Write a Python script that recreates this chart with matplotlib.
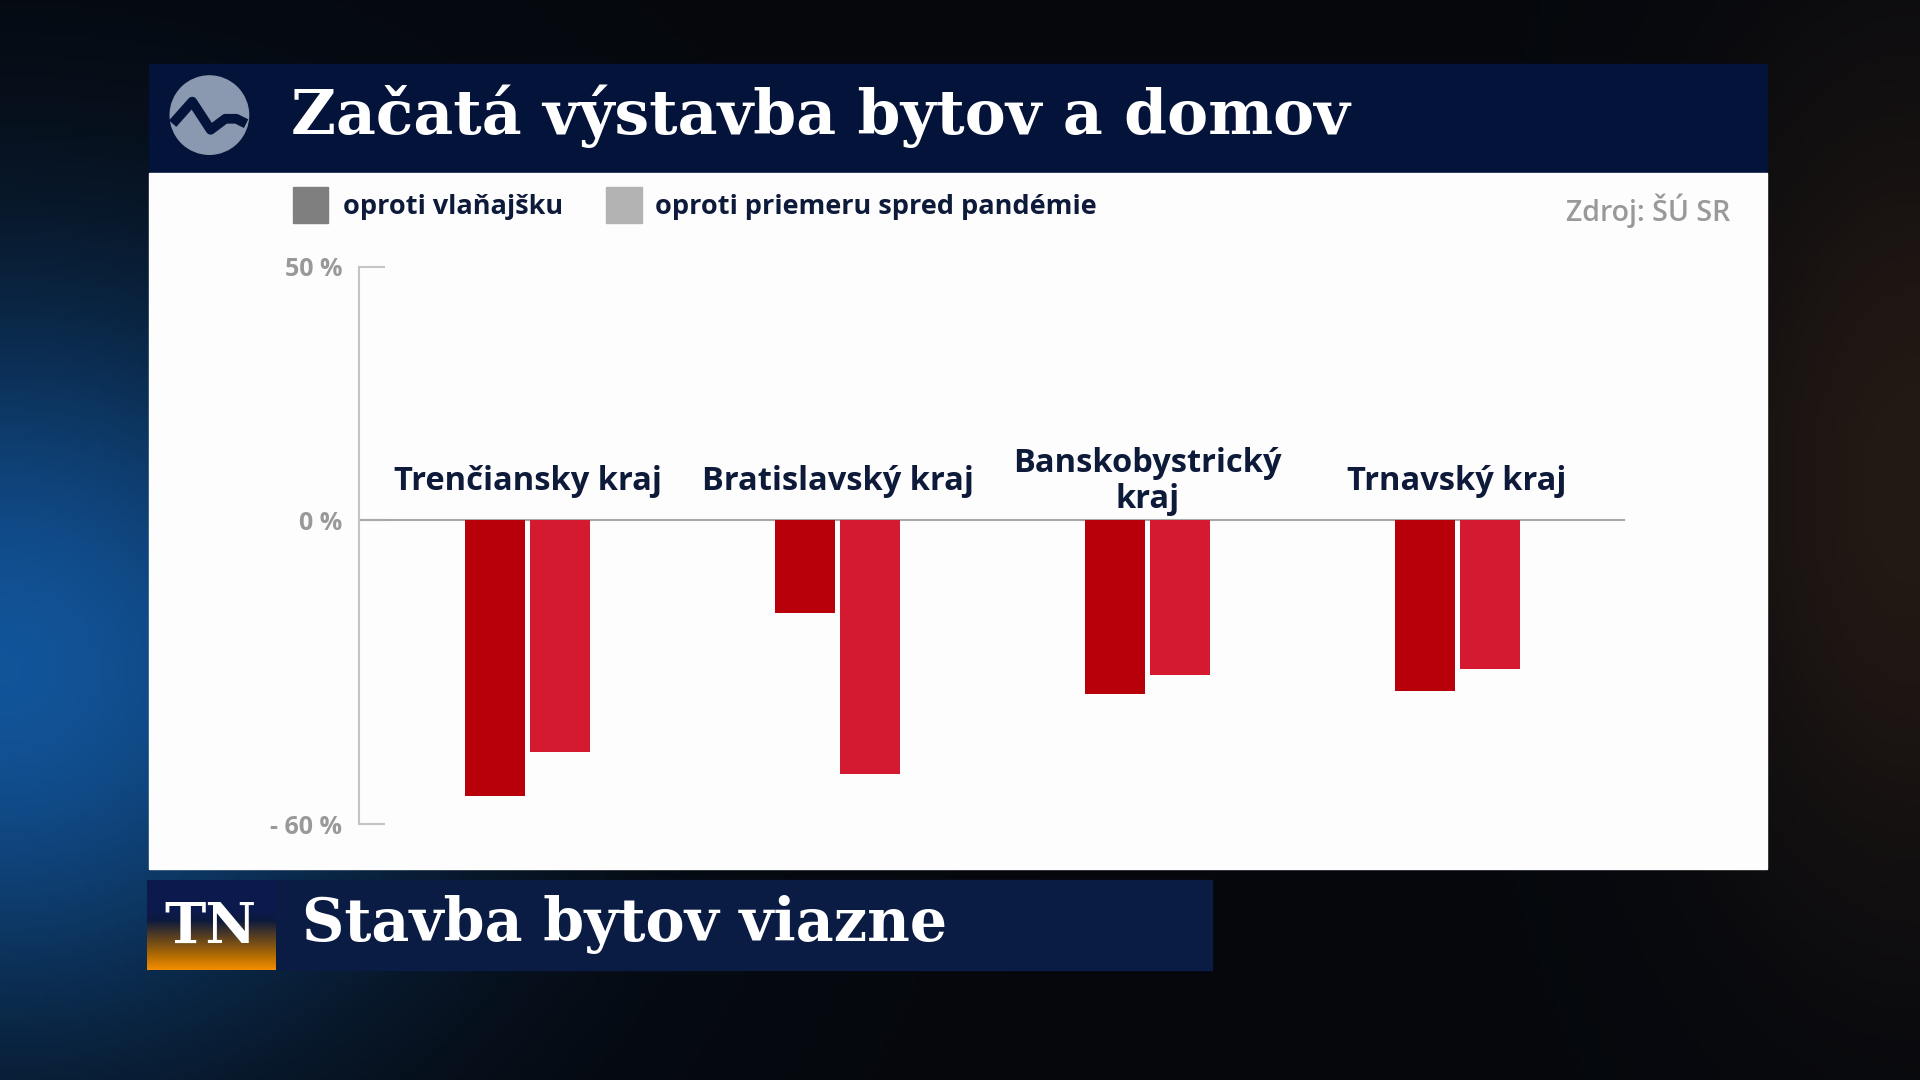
import numpy as np
import matplotlib
matplotlib.use("Agg")
import matplotlib.pyplot as plt
from matplotlib.patches import Rectangle, Circle

# ---------------- data ----------------
regions = ["Trenčiansky kraj", "Bratislavský kraj", "Banskobystrický\nkraj", "Trnavský kraj"]
vs_last_year = [-54.5, -18.4, -34.4, -33.7]        # oproti vlaňajšku
vs_pre_pandemic = [-45.8, -50.1, -30.5, -29.3]     # oproti priemeru spred pandémie
series_names = ["oproti vlaňajšku", "oproti priemeru spred pandémie"]
ytick_values = [50, 0, -60]
ytick_labels = ["50 %", "0 %", "- 60 %"]
title = "Začatá výstavba bytov a domov"
source = "Zdroj: ŠÚ SR"
banner = "Stavba bytov viazne"

# ---------------- styles ----------------
W, H = 1568.0, 882.0   # layout reference units
NAVY = "#04133a"
TXT_NAVY = "#0e1a3a"
DARK_RED = "#b8000a"
LIGHT_RED = "#d41a31"
SANS = ["Open Sans", "DejaVu Sans"]
SERIF = ["DejaVu Serif"]

fig = plt.figure(figsize=(19.2, 10.8), dpi=100)

# background axes in layout units
bg = fig.add_axes([0, 0, 1, 1])
bg.set_xlim(0, W)
bg.set_ylim(H, 0)
bg.axis("off")

# background gradient (dark space with blue glow on the left)
gy, gx = np.mgrid[0:1:216j, 0:1:384j]
base = np.array([0.02, 0.03, 0.05])
blue = np.array([0.05, 0.30, 0.55])
glow = np.exp(-(((gx - 0.0) / 0.22) ** 2 + ((gy - 0.62) / 0.35) ** 2))
warm = np.array([0.12, 0.07, 0.03])
glow2 = np.exp(-(((gx - 1.0) / 0.12) ** 2 + ((gy - 0.45) / 0.4) ** 2))
img = base[None, None, :] + glow[..., None] * blue[None, None, :] + glow2[..., None] * warm[None, None, :]
bg.imshow(np.clip(img, 0, 1), extent=[0, W, H, 0], aspect="auto", zorder=0)

# header bar
bg.add_patch(Rectangle((122, 52), 1321, 89, color=NAVY, zorder=2))
bg.add_patch(Circle((171, 94), 32, color="#8a99b0", zorder=3))
wave_x = [141, 157, 172, 184, 193, 201]
wave_y = [101, 83, 106, 97, 97, 101]
bg.plot(wave_x, wave_y, color=NAVY, lw=7, solid_capstyle="butt", solid_joinstyle="round", zorder=4)
bg.text(238, 95, title, color="white", fontsize=44.3, fontweight="bold",
        family=SERIF, va="center", ha="left", zorder=4)

# white panel
bg.add_patch(Rectangle((122, 141), 1321, 569, color="#fdfdfd", zorder=2))

# legend
bg.add_patch(Rectangle((239, 153), 29, 29, color="#7f7f7f", zorder=3))
bg.text(280, 169, series_names[0], color=TXT_NAVY, fontsize=19.5, fontweight="bold",
        family=SANS, va="center", ha="left", zorder=4)
bg.add_patch(Rectangle((495, 153), 29, 29, color="#b3b3b3", zorder=3))
bg.text(535, 169, series_names[1], color=TXT_NAVY, fontsize=19.5, fontweight="bold",
        family=SANS, va="center", ha="left", zorder=4)
bg.text(1413, 172, source, color="#999999", fontsize=20.5, fontweight="semibold",
        family=SANS, va="center", ha="right", zorder=4)

# bottom banner
bg.add_patch(Rectangle((225, 719), 765, 73, color="#0a1c44", zorder=2))
tn = np.linspace(0, 1, 60)[:, None] * np.ones((1, 10))
tn_rgb = np.zeros((60, 10, 3))
tn_rgb[..., 0] = 0.05 + 0.9 * np.clip((tn - 0.45) / 0.55, 0, 1)
tn_rgb[..., 1] = 0.10 + 0.45 * np.clip((tn - 0.45) / 0.55, 0, 1)
tn_rgb[..., 2] = 0.30 * (1 - np.clip((tn - 0.35) / 0.5, 0, 1))
bg.imshow(tn_rgb, extent=[120, 225, 792, 719], aspect="auto", zorder=3)
bg.text(172, 757, "TN", color="white", fontsize=40, fontweight="bold",
        family=SERIF, va="center", ha="center", zorder=4)
bg.text(247, 755, banner, color="white", fontsize=42.3, fontweight="bold",
        family=SERIF, va="center", ha="left", zorder=4)

# ---------------- chart axes ----------------
ax_left, ax_right, ax_top, ax_bot = 293, 1327, 218, 673
ax = fig.add_axes([ax_left / W, 1 - ax_bot / H, (ax_right - ax_left) / W, (ax_bot - ax_top) / H])
ax.patch.set_alpha(0)
spacing = 253.0
x = np.arange(len(regions))
ax.set_xlim(-(431 - ax_left) / spacing, (ax_right - 431) / spacing)
ax.set_ylim(-60, 50)
bw = 49 / spacing
off = 26.5 / spacing
ax.bar(x - off, vs_last_year, width=bw, color=DARK_RED, zorder=3)
ax.bar(x + off, vs_pre_pandemic, width=bw, color=LIGHT_RED, zorder=3)
ax.axhline(0, color="#a8a8a8", lw=1.5, zorder=2)

for s in ["top", "right", "bottom"]:
    ax.spines[s].set_visible(False)
ax.spines["left"].set_color("#c4c4c4")
ax.spines["left"].set_linewidth(1.5)
ax.set_xticks([])
ax.set_yticks(ytick_values)
ax.set_yticklabels(ytick_labels, family=SANS, fontweight="bold", fontsize=18, color="#999999")
ax.tick_params(axis="y", direction="in", length=19, width=1.5, color="#c4c4c4", pad=12)

for xi, name in zip(x, regions):
    ax.text(xi, 7.6, name, ha="center", va="center", fontsize=23.5, fontweight="bold",
            family=SANS, color=TXT_NAVY, linespacing=1.12, zorder=4)

fig.savefig("out.png", dpi=100)
